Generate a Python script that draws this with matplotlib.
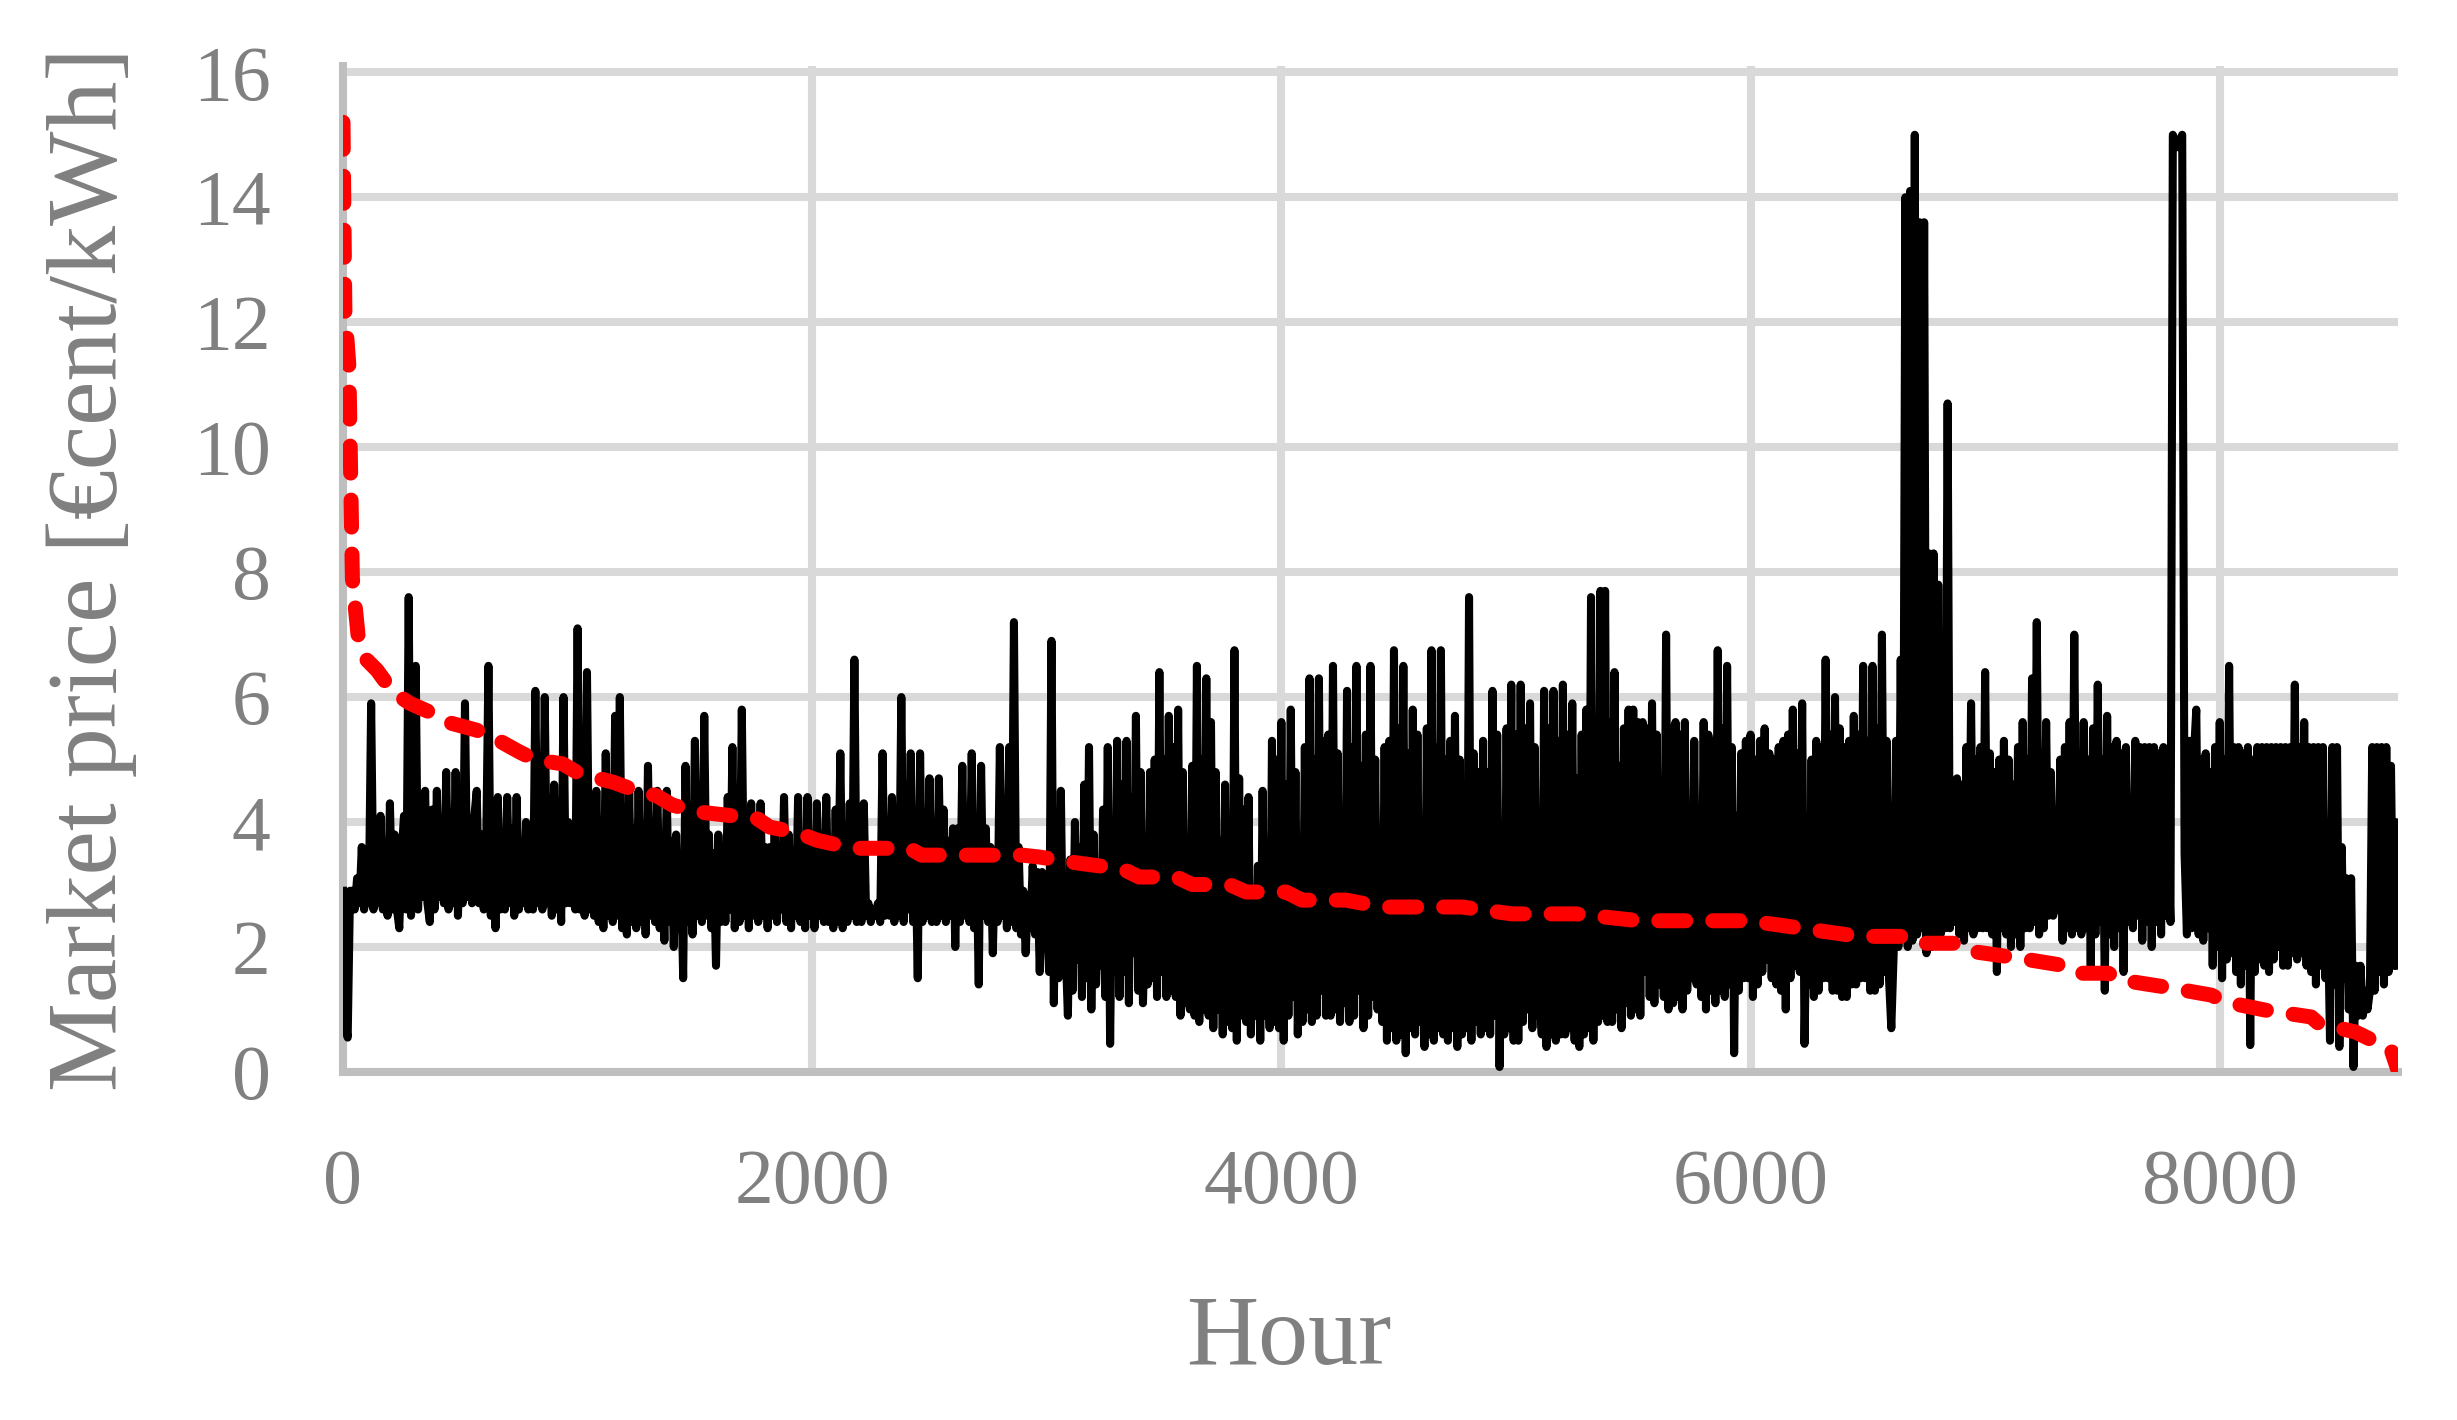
import numpy as np
import matplotlib.pyplot as plt

# hourly market price, read every 10 h from the chart (one list per 1000 h)
p0 = [2.9, 0.8, 0.55, 2.9, 2.9, 2.6, 3.1, 2.7, 3.6, 2.6,
      3.2, 2.7, 5.9, 2.6, 3.9, 2.7, 4.1, 2.6, 3.4, 2.5,
      4.3, 2.6, 3.8, 2.6, 2.3, 3.5, 4.1, 2.6, 7.6, 2.5,
      3.6, 6.5, 2.6, 3.9, 2.8, 4.5, 2.7, 2.4, 4.2, 2.6,
      4.5, 2.8, 3.7, 2.7, 4.8, 2.6, 4.0, 2.7, 4.8, 2.5,
      3.8, 2.7, 5.9, 2.8, 3.6, 2.7, 4.1, 4.5, 2.7, 3.8,
      2.6, 3.5, 6.5, 2.5, 4.0, 2.3, 4.4, 2.6, 3.7, 2.6,
      4.4, 2.7, 3.9, 2.5, 4.4, 2.6, 3.6, 2.7, 4.0, 2.6,
      3.5, 2.6, 6.1, 2.7, 4.2, 2.6, 6.0, 2.7, 3.8, 2.5,
      4.6, 2.6, 3.6, 2.4, 6.0, 2.7, 4.0, 2.7, 3.5, 2.6]
p1 = [7.1, 2.6, 3.8, 2.5, 6.4, 2.6, 3.6, 2.5, 4.5, 2.4,
      3.9, 2.3, 5.1, 2.5, 3.7, 2.4, 5.7, 2.5, 6.0, 2.3,
      3.6, 2.2, 4.5, 2.4, 3.9, 2.3, 4.5, 2.4, 3.5, 2.2,
      4.9, 2.5, 3.8, 2.4, 4.5, 2.3, 3.6, 2.1, 4.5, 2.4,
      3.7, 2.0, 3.8, 2.3, 3.4, 1.5, 4.9, 2.4, 3.9, 2.2,
      5.3, 2.5, 3.6, 2.4, 5.7, 2.5, 3.8, 2.3, 3.5, 1.7,
      3.8, 2.4, 3.6, 2.4, 4.4, 2.6, 5.2, 2.3, 3.9, 2.4,
      5.8, 2.5, 3.7, 2.3, 4.3, 2.5, 3.9, 2.4, 4.3, 2.5,
      3.6, 2.3, 3.6, 2.5, 3.9, 2.4, 3.4, 2.6, 4.4, 2.4,
      3.8, 2.3, 3.4, 2.5, 4.4, 2.4, 3.7, 2.3, 4.4, 2.5]
p2 = [3.7, 2.3, 4.3, 2.5, 3.8, 2.4, 4.4, 2.4, 3.6, 2.3,
      4.2, 2.4, 5.1, 2.3, 3.7, 2.4, 4.3, 2.5, 6.6, 2.4,
      2.7, 2.4, 4.3, 2.5, 2.7, 2.4, 2.6, 2.5, 2.7, 2.4,
      5.1, 2.5, 2.7, 2.5, 4.4, 2.4, 2.7, 2.5, 6.0, 2.4,
      3.8, 2.6, 5.1, 2.4, 3.6, 1.5, 5.1, 2.4, 3.9, 2.5,
      4.7, 2.4, 3.8, 2.4, 4.7, 2.5, 4.2, 2.4, 3.7, 2.5,
      3.9, 2.0, 3.9, 2.4, 4.9, 2.5, 3.8, 2.4, 5.1, 2.3,
      3.6, 1.4, 4.9, 2.5, 3.9, 2.4, 3.6, 1.9, 3.5, 2.4,
      5.2, 2.5, 3.8, 2.3, 5.2, 2.4, 7.2, 2.3, 3.6, 2.2,
      2.9, 1.9, 2.8, 2.3, 3.3, 2.2, 3.2, 1.6, 3.2, 2.0]
p3 = [2.5, 1.6, 6.9, 1.1, 3.6, 1.5, 4.5, 1.7, 2.0, 0.9,
      3.4, 1.3, 4.0, 1.8, 3.6, 1.2, 4.6, 1.5, 5.2, 1.0,
      3.8, 1.4, 2.4, 1.7, 4.2, 1.2, 5.2, 0.45, 3.8, 1.6,
      5.3, 1.2, 4.6, 1.6, 5.3, 1.1, 4.4, 1.9, 5.7, 1.3,
      4.8, 1.1, 2.6, 1.4, 4.8, 1.5, 5.0, 1.2, 6.4, 1.6,
      5.0, 1.2, 5.7, 1.3, 5.2, 1.2, 5.8, 0.9, 4.8, 1.1,
      2.5, 1.0, 4.9, 0.9, 6.5, 0.8, 5.0, 1.0, 6.3, 0.9,
      5.6, 0.7, 4.8, 1.0, 3.7, 0.6, 4.6, 0.8, 2.3, 0.7,
      6.75, 0.5, 4.7, 0.9, 4.2, 0.8, 4.4, 0.6, 2.3, 0.9,
      3.3, 0.5, 4.5, 0.9, 1.7, 0.7, 5.3, 0.8, 5.0, 0.7]
p4 = [5.6, 0.5, 4.6, 0.9, 5.8, 1.2, 4.8, 0.6, 2.9, 0.8,
      5.2, 1.0, 6.3, 0.8, 5.0, 0.9, 6.3, 1.3, 5.3, 0.9,
      5.4, 0.9, 6.5, 1.0, 5.1, 0.8, 2.6, 1.1, 6.1, 0.8,
      5.2, 0.9, 6.5, 1.3, 4.9, 0.7, 5.4, 0.9, 6.5, 1.2,
      5.0, 1.0, 3.7, 0.8, 5.2, 0.5, 5.3, 0.7, 6.75, 0.5,
      5.5, 0.6, 6.5, 0.3, 5.1, 0.7, 5.8, 0.6, 5.4, 0.8,
      2.0, 0.4, 5.5, 0.6, 6.75, 0.5, 5.2, 0.7, 6.75, 0.6,
      5.0, 0.5, 5.3, 0.7, 5.7, 0.4, 5.0, 0.6, 1.6, 0.7,
      7.6, 0.5, 5.1, 0.8, 4.8, 0.6, 5.3, 0.7, 4.8, 0.6,
      6.1, 0.9, 5.4, 0.08, 3.8, 0.6, 5.5, 0.7, 6.2, 0.5]
p5 = [5.4, 0.5, 6.2, 0.8, 5.5, 1.0, 5.9, 0.7, 5.2, 0.9,
      1.3, 0.6, 6.1, 0.4, 5.5, 0.6, 6.1, 0.5, 5.3, 0.6,
      6.2, 0.6, 5.4, 0.7, 5.9, 0.5, 4.7, 0.4, 5.4, 0.6,
      5.8, 0.7, 7.6, 0.5, 5.6, 0.8, 7.7, 0.9, 7.7, 0.8,
      5.6, 0.8, 6.4, 1.0, 4.9, 0.7, 5.5, 1.1, 5.8, 0.9,
      5.8, 1.0, 5.6, 0.9, 5.6, 1.6, 5.5, 1.2, 5.9, 1.1,
      5.4, 1.4, 4.5, 1.2, 7.0, 1.0, 5.5, 1.1, 5.6, 1.2,
      5.4, 1.0, 5.6, 1.3, 4.1, 1.5, 5.3, 1.4, 3.6, 1.2,
      5.6, 1.0, 5.4, 1.3, 5.3, 1.1, 6.75, 1.3, 5.5, 1.2,
      6.5, 1.4, 5.2, 0.3, 4.1, 1.3, 5.1, 1.5, 5.3, 1.5]
p6 = [5.4, 1.2, 5.0, 1.4, 5.3, 1.6, 5.5, 1.8, 5.1, 1.5,
      5.0, 1.4, 5.2, 1.3, 5.3, 1.0, 5.4, 1.5, 5.8, 1.7,
      5.1, 1.6, 5.9, 0.45, 2.8, 1.4, 5.0, 1.2, 5.3, 1.3,
      5.2, 1.5, 6.6, 1.5, 5.4, 1.3, 6.0, 1.3, 5.5, 1.2,
      5.2, 1.2, 5.3, 1.4, 5.7, 1.4, 5.4, 1.5, 6.5, 1.5,
      5.3, 1.3, 6.5, 1.3, 5.5, 1.4, 7.0, 1.6, 5.3, 1.5,
      0.7, 1.9, 5.3, 2.0, 6.6, 2.2, 14.0, 2.0, 14.1, 2.1,
      15.0, 2.2, 13.6, 2.3, 13.6, 1.9, 8.3, 2.0, 8.3, 2.1,
      7.8, 2.2, 4.8, 2.3, 10.7, 2.3, 4.5, 2.4, 4.7, 2.2,
      4.6, 2.1, 5.2, 2.3, 5.9, 2.2, 5.0, 2.3, 5.2, 2.3]
p7 = [6.4, 2.3, 5.1, 2.2, 4.8, 1.6, 5.0, 2.3, 5.3, 2.2,
      5.0, 2.0, 4.6, 2.2, 5.2, 2.0, 5.6, 2.3, 5.0, 2.3,
      6.3, 2.4, 7.2, 2.2, 5.1, 2.3, 5.6, 2.5, 4.8, 2.5,
      2.9, 2.6, 5.0, 2.1, 5.2, 2.3, 5.6, 2.2, 7.0, 2.3,
      5.1, 2.2, 5.6, 2.3, 5.0, 1.7, 5.5, 2.2, 6.2, 2.4,
      5.0, 1.3, 5.7, 2.2, 5.2, 2.0, 5.3, 2.3, 5.1, 1.6,
      5.2, 2.4, 3.0, 2.3, 5.3, 2.5, 5.2, 2.1, 5.2, 2.4,
      5.2, 2.0, 5.2, 2.4, 5.1, 2.2, 5.2, 2.5, 3.6, 2.4,
      15.0, 14.9, 14.8, 14.9, 15.0, 3.5, 2.2, 5.3, 2.3, 5.1,
      5.8, 2.2, 5.0, 2.1, 5.1, 2.3, 4.8, 1.7, 5.2, 2.0]
p8 = [5.6, 1.5, 5.0, 1.8, 6.5, 1.9, 5.2, 1.6, 5.2, 1.4,
      5.1, 1.7, 5.2, 0.43, 5.0, 1.6, 5.2, 1.8, 5.2, 1.7,
      5.2, 1.6, 5.2, 1.8, 5.2, 2.0, 5.2, 1.7, 5.2, 1.7,
      5.2, 1.9, 6.2, 1.8, 5.2, 1.9, 5.6, 1.7, 5.2, 1.6,
      5.2, 1.4, 5.2, 1.7, 5.2, 1.5, 2.75, 0.5, 5.2, 1.4,
      5.2, 0.4, 3.6, 1.5, 3.1, 1.0, 3.1, 0.08, 1.7, 0.9,
      1.7, 0.9, 1.3, 1.0, 1.3, 5.2, 1.3, 5.2, 1.6, 5.2,
      1.4, 5.2, 1.6, 4.9, 1.7, 4.0, 1.7]

# price duration curve (sorted prices)
dur_hour = [0, 8, 25, 40, 64, 100, 145, 213, 285, 400, 443, 570, 647, 753, 818,
            937, 1009, 1150, 1222, 1337, 1405, 1520, 1635, 1763, 1819, 1946, 2019,
            2172, 2415, 2466, 2896, 2968, 3139, 3322, 3394, 3552, 3620, 3778, 3850,
            4020, 4088, 4276, 4429, 4770, 4983, 5255, 5524, 5992, 6218, 6461, 6644,
            6716, 6887, 6942, 7129, 7325, 7385, 7525, 7581, 7768, 7964, 8024, 8194,
            8390, 8420, 8578, 8633, 8731, 8760]
dur_price = [15.2, 12.2, 11.3, 7.9, 7.0, 6.6, 6.43, 6.08, 5.9, 5.71, 5.6, 5.47, 5.34,
             5.12, 5.0, 4.93, 4.77, 4.64, 4.54, 4.42, 4.27, 4.16, 4.11, 4.06, 3.92,
             3.82, 3.71, 3.58, 3.58, 3.47, 3.47, 3.44, 3.34, 3.25, 3.12, 3.12, 3.0,
             3.0, 2.88, 2.88, 2.75, 2.75, 2.64, 2.64, 2.53, 2.53, 2.42, 2.42, 2.3,
             2.17, 2.17, 2.06, 2.06, 1.93, 1.83, 1.71, 1.58, 1.58, 1.47, 1.36, 1.23,
             1.12, 0.99, 0.88, 0.78, 0.64, 0.54, 0.35, 0.03]

price = p0 + p1 + p2 + p3 + p4 + p5 + p6 + p7 + p8
hours = np.arange(len(price)) * 10

grey = '#808080'
plt.rcParams['font.family'] = ['Liberation Serif', 'DejaVu Serif']

fig = plt.figure(figsize=(24.57, 14.2), dpi=100)
ax = fig.add_axes([0.1396, 0.2451, 0.976 - 0.1396, 0.9535 - 0.2451])

ax.plot(hours, price, color='black', lw=5.8, zorder=3)
ax.plot(dur_hour, dur_price, color='#ff0000', lw=10.8, ls=(0, (1.8, 1.8)),
        dash_capstyle='round', zorder=4)

ax.set_xlim(0, 8760)
ax.set_ylim(0, 16.1)
ax.set_xticks([0, 2000, 4000, 6000, 8000])
ax.set_yticks(np.arange(0, 17, 2))
ax.grid(True, color='#d9d9d9', lw=5.8, zorder=0)
ax.set_axisbelow(True)
for s in ['top', 'right']:
    ax.spines[s].set_visible(False)
for s in ['left', 'bottom']:
    ax.spines[s].set_color('#bfbfbf')
    ax.spines[s].set_linewidth(5.8)
ax.tick_params(length=0, labelsize=56, labelcolor=grey)
ax.tick_params(axis='y', pad=52)
ax.tick_params(axis='x', pad=55)

ax.set_xlabel('Hour', fontsize=72, color=grey)
ax.set_ylabel('Market price [€cent/kWh]', fontsize=72, color=grey)
ax.xaxis.set_label_coords(0.46, -0.222)
ax.yaxis.set_label_coords(-0.10, 0.5)

plt.savefig('out.png', dpi=100)
